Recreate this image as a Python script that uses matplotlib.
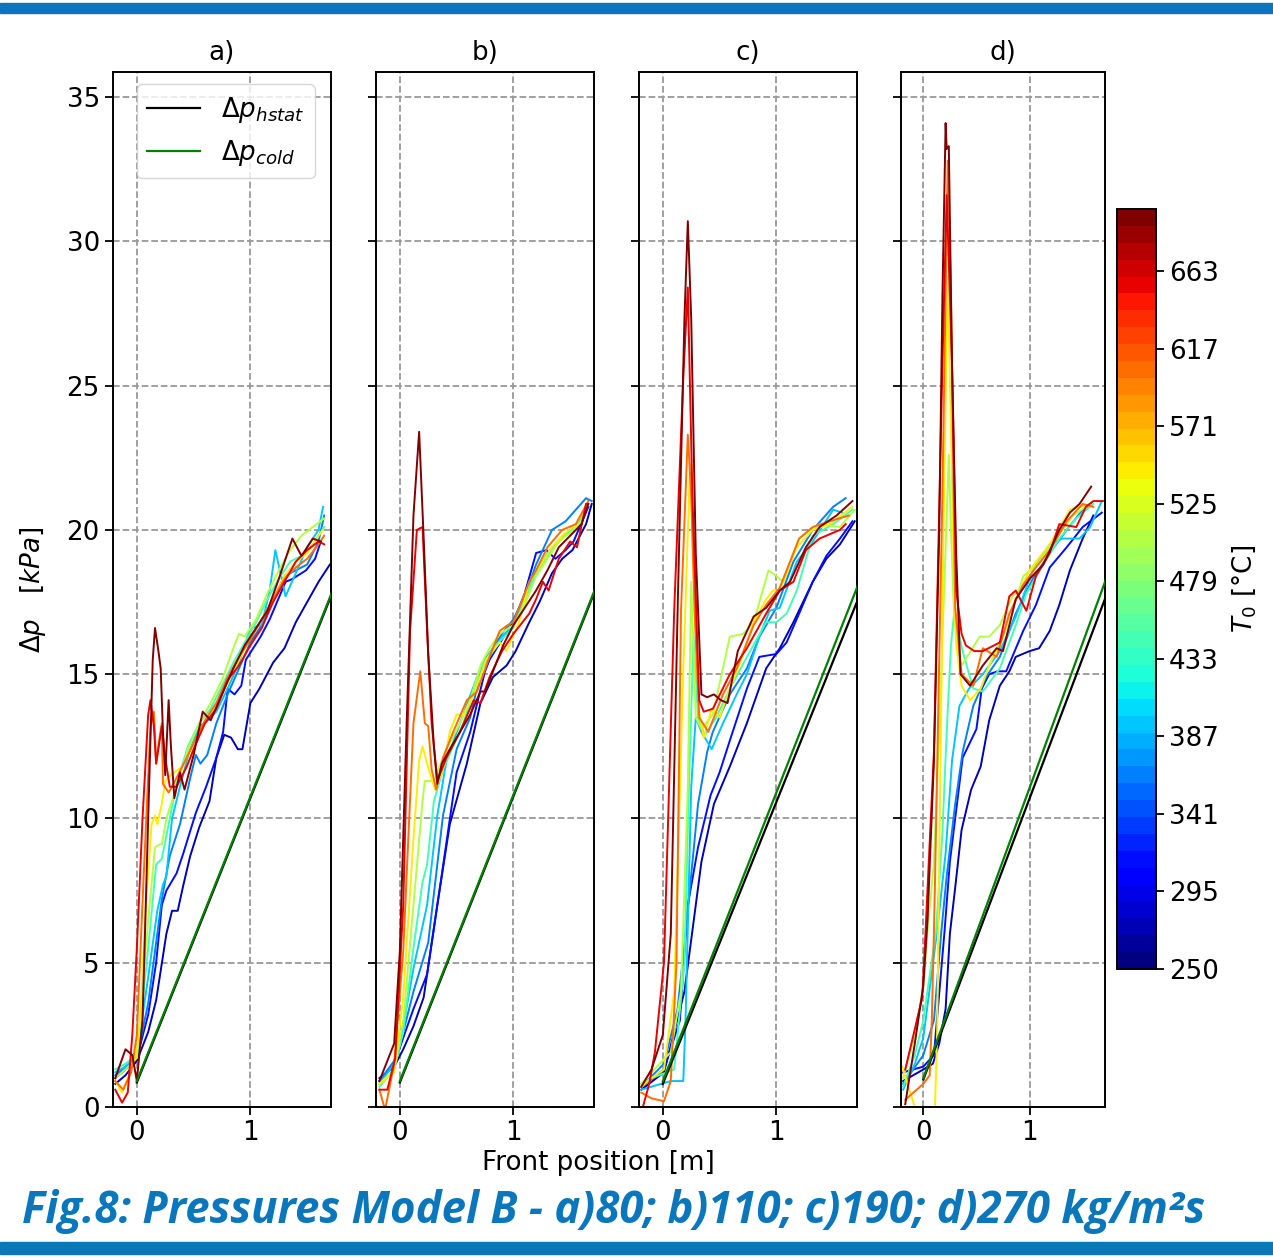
import matplotlib.pyplot as plt
import numpy as np
from matplotlib import colors, cm
from matplotlib.patches import Rectangle

plt.rcParams['font.family'] = 'DejaVu Sans'

# initial temperature of each run, coldest to hottest (same set in every panel)
temps = [270, 310, 360, 395, 440, 500, 545, 600, 650, 695]
titles = ['a)', 'b)', 'c)', 'd)']

# straight reference lines, front position 0 -> 1.75 m
ref_x = [0.0, 1.75]
hstat = [[0.85, 18.1], [0.85, 18.2], [0.8, 17.9], [0.95, 18.0]]
cold = [[0.9, 18.15], [0.9, 18.25], [0.9, 18.4], [1.0, 18.6]]

# ---- panel a) 80 kg/m2s
xa = [
    [-0.19, -0.1, 0.0, 0.1, 0.17, 0.26, 0.31, 0.36, 0.41, 0.47, 0.55, 0.64, 0.70, 0.77, 0.83, 0.89, 0.93, 1.0, 1.08, 1.2, 1.3, 1.4, 1.5, 1.6, 1.7],
    [-0.19, -0.1, 0.0, 0.1, 0.17, 0.22, 0.26, 0.35, 0.41, 0.52, 0.61, 0.70, 0.76, 0.80, 0.86, 0.92, 0.96, 1.09, 1.17, 1.31, 1.37, 1.49, 1.57, 1.62],
    [-0.19, -0.1, 0.0, 0.1, 0.22, 0.29, 0.38, 0.47, 0.52, 0.56, 0.62, 0.70, 0.80, 0.90, 1.00, 1.10, 1.20, 1.30, 1.40, 1.50, 1.60, 1.65],
    [-0.19, -0.1, 0.0, 0.1, 0.18, 0.23, 0.26, 0.31, 0.38, 0.46, 0.55, 0.6, 0.7, 0.8, 0.9, 1.0, 1.1, 1.17, 1.22, 1.31, 1.4, 1.5, 1.6, 1.64],
    [-0.19, -0.1, 0.0, 0.1, 0.17, 0.22, 0.28, 0.35, 0.45, 0.55, 0.65, 0.75, 0.85, 0.95, 1.05, 1.15, 1.25, 1.35, 1.45, 1.55, 1.65],
    [-0.19, -0.1, 0.0, 0.1, 0.16, 0.2, 0.22, 0.26, 0.35, 0.45, 0.55, 0.65, 0.75, 0.85, 0.9, 0.95, 1.05, 1.15, 1.25, 1.35, 1.45, 1.55, 1.65],
    [-0.19, -0.13, -0.06, 0.0, 0.03, 0.08, 0.13, 0.16, 0.18, 0.22, 0.25, 0.3, 0.4, 0.5, 0.6, 0.7, 0.8, 0.9, 1.0, 1.1, 1.2, 1.3, 1.4, 1.5, 1.6, 1.64],
    [-0.19, -0.12, -0.05, 0.0, 0.06, 0.12, 0.15, 0.17, 0.2, 0.22, 0.23, 0.28, 0.31, 0.4, 0.5, 0.6, 0.7, 0.8, 0.9, 1.0, 1.1, 1.2, 1.3, 1.4, 1.5, 1.6, 1.65],
    [-0.19, -0.13, -0.08, -0.04, 0.0, 0.05, 0.10, 0.12, 0.15, 0.17, 0.22, 0.25, 0.29, 0.35, 0.44, 0.5, 0.6, 0.7, 0.8, 0.9, 1.0, 1.1, 1.2, 1.3, 1.4, 1.5, 1.6, 1.65],
    [-0.19, -0.1, -0.04, 0.0, 0.05, 0.10, 0.14, 0.16, 0.19, 0.21, 0.23, 0.25, 0.28, 0.30, 0.33, 0.38, 0.42, 0.5, 0.58, 0.65, 0.75, 0.85, 0.95, 1.05, 1.15, 1.25, 1.37, 1.45, 1.55, 1.62],
]
ya = [
    [0.8, 1.1, 1.6, 2.6, 3.7, 6.0, 6.8, 6.8, 7.7, 8.7, 9.7, 10.6, 12.1, 12.9, 12.8, 12.4, 12.4, 14.0, 14.5, 15.4, 15.9, 16.8, 17.5, 18.2, 18.8],
    [1.0, 1.3, 1.7, 3.2, 5.0, 7.0, 7.5, 8.1, 8.8, 10.2, 11.1, 12.1, 13.0, 14.5, 14.3, 14.6, 15.5, 16.3, 16.9, 18.2, 18.3, 18.6, 19.0, 19.6],
    [1.1, 1.4, 1.7, 3.6, 7.2, 8.7, 9.8, 11.4, 12.2, 11.9, 12.2, 13.3, 14.3, 15.2, 16.1, 16.7, 17.6, 18.4, 18.6, 18.8, 19.6, 20.5],
    [1.2, 1.4, 1.8, 4.5, 6.8, 7.7, 8.0, 10.0, 11.1, 12.3, 13.2, 13.3, 13.7, 14.5, 15.4, 16.6, 16.7, 17.9, 19.3, 17.7, 18.5, 19.4, 20.0, 20.8],
    [1.3, 1.5, 1.8, 5.5, 8.4, 8.6, 9.8, 11.2, 12.5, 13.3, 13.8, 14.6, 15.4, 16.1, 16.8, 17.6, 18.3, 18.9, 19.1, 19.5, 20.1],
    [1.0, 1.3, 1.7, 6.5, 9.0, 9.1, 9.1, 10.0, 11.1, 12.4, 13.3, 14.0, 14.8, 15.9, 16.4, 16.3, 16.9, 17.8, 18.6, 19.3, 19.8, 20.1, 20.4],
    [0.9, 0.5, 1.2, 2.0, 3.0, 7.0, 9.8, 10.1, 9.8, 10.5, 11.3, 11.5, 11.8, 12.6, 13.3, 13.9, 14.7, 15.5, 16.3, 16.9, 17.6, 18.4, 18.9, 19.2, 19.8, 20.0],
    [0.9, 0.6, 1.2, 2.5, 8.0, 13.2, 13.7, 11.9, 12.8, 13.3, 11.2, 10.9, 11.1, 11.8, 12.6, 13.4, 14.0, 14.9, 15.6, 16.2, 16.9, 17.6, 18.3, 18.7, 19.0, 19.5, 19.8],
    [0.6, 0.15, 0.5, 2.5, 5.5, 10.0, 13.6, 14.1, 13.2, 11.9, 13.2, 12.1, 11.1, 11.1, 11.8, 12.4, 13.3, 13.8, 14.8, 15.3, 16.0, 16.6, 17.5, 18.2, 18.9, 19.3, 19.6, 19.5],
    [1.0, 2.0, 1.8, 0.9, 3.0, 10.0, 15.5, 16.6, 15.8, 15.2, 13.0, 11.5, 14.1, 12.5, 10.7, 11.6, 11.0, 12.2, 13.7, 13.4, 14.3, 15.2, 16.0, 16.6, 17.2, 18.3, 19.7, 19.1, 19.7, 19.6],
]

# ---- panel b) 110 kg/m2s
xb = [
    [-0.18, -0.05, 0.03, 0.12, 0.21, 0.33, 0.44, 0.59, 0.71, 0.82, 0.94, 1.02, 1.14, 1.23, 1.34, 1.43, 1.52, 1.64, 1.69],
    [-0.18, -0.05, 0.03, 0.12, 0.24, 0.36, 0.50, 0.62, 0.70, 0.75, 0.79, 0.9, 1.0, 1.1, 1.2, 1.29, 1.37, 1.46, 1.53, 1.66],
    [-0.18, -0.05, 0.03, 0.12, 0.25, 0.38, 0.50, 0.62, 0.73, 0.82, 0.9, 1.0, 1.1, 1.2, 1.34, 1.46, 1.55, 1.64, 1.69],
    [-0.18, -0.05, 0.03, 0.12, 0.24, 0.33, 0.41, 0.53, 0.68, 0.79, 0.9, 1.0, 1.1, 1.2, 1.3, 1.4, 1.5, 1.6, 1.66],
    [-0.18, -0.05, 0.03, 0.12, 0.20, 0.24, 0.30, 0.38, 0.47, 0.56, 0.71, 0.82, 0.92, 1.0, 1.1, 1.2, 1.3, 1.4, 1.5, 1.6, 1.66],
    [-0.18, -0.05, 0.03, 0.12, 0.20, 0.22, 0.30, 0.41, 0.53, 0.62, 0.71, 0.79, 0.88, 1.0, 1.1, 1.2, 1.3, 1.4, 1.5, 1.6, 1.66],
    [-0.18, -0.05, 0.03, 0.12, 0.17, 0.20, 0.24, 0.31, 0.38, 0.44, 0.50, 0.56, 0.65, 0.76, 0.88, 0.94, 1.05, 1.14, 1.34, 1.43, 1.55, 1.66],
    [-0.18, -0.13, -0.05, 0.03, 0.12, 0.18, 0.22, 0.25, 0.28, 0.32, 0.38, 0.47, 0.59, 0.68, 0.79, 0.88, 0.95, 1.0, 1.14, 1.2, 1.3, 1.43, 1.55, 1.66],
    [-0.18, -0.11, -0.04, 0.03, 0.09, 0.15, 0.20, 0.24, 0.28, 0.33, 0.41, 0.53, 0.65, 0.71, 0.79, 0.9, 1.0, 1.14, 1.2, 1.26, 1.31, 1.4, 1.5, 1.56, 1.64],
    [-0.18, -0.05, 0.0, 0.06, 0.12, 0.17, 0.21, 0.25, 0.30, 0.33, 0.37, 0.44, 0.53, 0.62, 0.71, 0.75, 0.82, 0.91, 1.0, 1.1, 1.2, 1.3, 1.4, 1.5, 1.6, 1.66],
]
yb = [
    [1.0, 1.4, 2.0, 2.8, 3.8, 7.0, 9.8, 11.9, 14.0, 14.9, 15.3, 15.8, 16.8, 17.5, 18.5, 19.0, 19.3, 20.2, 20.9],
    [0.9, 1.5, 2.4, 3.4, 4.6, 7.8, 11.6, 13.0, 14.3, 15.1, 15.5, 16.2, 16.8, 17.8, 19.2, 19.3, 19.0, 19.3, 19.6, 20.8],
    [0.9, 1.6, 2.6, 4.0, 5.7, 10.1, 12.4, 13.5, 15.4, 15.9, 16.4, 16.9, 17.7, 18.8, 20.0, 20.3, 20.7, 21.1, 21.0],
    [0.8, 1.5, 2.8, 4.8, 7.0, 10.1, 12.0, 13.3, 14.9, 15.6, 16.3, 16.7, 17.6, 18.5, 19.2, 19.6, 20.0, 20.4, 20.9],
    [0.7, 1.3, 2.6, 5.5, 7.8, 8.4, 10.6, 11.7, 12.5, 13.3, 15.2, 15.9, 16.3, 16.6, 17.6, 18.5, 19.1, 19.6, 20.0, 20.4, 20.9],
    [0.8, 1.3, 3.0, 7.0, 10.6, 11.3, 11.3, 12.4, 13.3, 14.1, 15.3, 15.9, 16.4, 16.7, 17.4, 18.4, 19.0, 19.6, 19.9, 20.3, 20.9],
    [0.8, 1.2, 3.8, 9.3, 12.0, 12.5, 11.9, 11.0, 11.7, 13.0, 13.6, 13.6, 14.3, 15.5, 16.1, 15.8, 16.8, 18.2, 19.4, 19.8, 20.2, 20.9],
    [0.6, -0.1, 1.5, 5.4, 13.3, 15.1, 13.3, 13.2, 11.7, 11.0, 12.1, 13.0, 14.1, 14.4, 15.6, 16.5, 16.7, 16.8, 18.2, 18.6, 19.4, 20.0, 20.2, 21.0],
    [0.6, 0.6, 1.7, 7.0, 16.5, 20.0, 20.1, 16.5, 13.3, 11.3, 12.1, 13.0, 14.1, 14.0, 14.9, 15.8, 16.4, 17.1, 17.6, 18.2, 17.9, 19.0, 19.6, 19.4, 20.9],
    [0.9, 2.2, 5.4, 13.3, 20.5, 23.4, 19.7, 15.7, 12.5, 11.2, 11.9, 12.4, 13.0, 13.6, 14.4, 14.4, 15.1, 16.0, 16.7, 17.3, 17.9, 18.6, 19.4, 19.8, 20.2, 20.9],
]

# ---- panel c) 190 kg/m2s
xc = [
    [-0.19, 0.01, 0.19, 0.34, 0.45, 0.59, 0.74, 0.91, 1.03, 1.15, 1.32, 1.44, 1.56, 1.69],
    [-0.19, 0.01, 0.15, 0.22, 0.31, 0.42, 0.50, 0.59, 0.74, 0.85, 1.0, 1.09, 1.20, 1.32, 1.44, 1.56, 1.67],
    [-0.19, 0.01, 0.13, 0.20, 0.31, 0.39, 0.44, 0.59, 0.74, 0.85, 1.0, 1.15, 1.32, 1.50, 1.61],
    [-0.19, 0.07, 0.18, 0.20, 0.25, 0.29, 0.34, 0.43, 0.53, 0.65, 0.74, 0.85, 0.94, 1.03, 1.18, 1.32, 1.50, 1.58],
    [-0.19, -0.1, 0.1, 0.19, 0.23, 0.27, 0.31, 0.37, 0.47, 0.59, 0.74, 0.91, 1.0, 1.09, 1.18, 1.32, 1.50, 1.67],
    [-0.19, -0.1, 0.07, 0.16, 0.22, 0.25, 0.29, 0.34, 0.44, 0.59, 0.71, 0.80, 0.93, 1.0, 1.06, 1.20, 1.38, 1.56, 1.69],
    [-0.19, -0.1, 0.01, 0.10, 0.18, 0.24, 0.28, 0.32, 0.36, 0.43, 0.50, 0.59, 0.68, 0.80, 0.91, 0.97, 1.03, 1.18, 1.32, 1.47, 1.67],
    [-0.19, -0.1, 0.01, 0.07, 0.12, 0.16, 0.22, 0.25, 0.28, 0.32, 0.40, 0.53, 0.65, 0.80, 0.91, 1.03, 1.20, 1.32, 1.47, 1.64],
    [-0.19, -0.12, -0.07, 0.01, 0.10, 0.18, 0.22, 0.26, 0.32, 0.36, 0.44, 0.59, 0.74, 0.91, 1.03, 1.15, 1.26, 1.38, 1.56, 1.61],
    [-0.19, -0.1, 0.0, 0.07, 0.13, 0.19, 0.22, 0.25, 0.29, 0.34, 0.39, 0.45, 0.51, 0.57, 0.66, 0.80, 0.91, 1.03, 1.12, 1.26, 1.38, 1.53, 1.67],
]
yc = [
    [0.6, 1.2, 4.0, 8.5, 10.5, 11.8, 13.3, 15.2, 15.9, 16.8, 18.2, 19.0, 19.5, 20.3],
    [0.7, 1.3, 3.0, 7.0, 9.0, 10.8, 11.6, 12.7, 14.5, 15.6, 15.7, 16.1, 17.1, 18.2, 19.1, 19.7, 20.3],
    [0.7, 1.5, 3.4, 6.0, 10.5, 12.3, 13.0, 14.3, 15.2, 16.3, 17.3, 18.9, 20.0, 20.8, 21.1],
    [0.6, 0.9, 0.9, 3.0, 11.1, 13.5, 13.0, 12.4, 13.3, 14.3, 15.0, 16.3, 17.2, 17.3, 18.9, 19.6, 20.7, 20.6],
    [0.8, 1.0, 1.3, 5.0, 11.1, 16.3, 13.5, 12.9, 13.5, 14.5, 15.6, 16.8, 16.8, 17.1, 17.9, 19.8, 20.2, 20.7],
    [0.8, 1.2, 1.9, 4.0, 11.1, 18.2, 13.5, 13.1, 13.6, 16.3, 16.4, 16.8, 18.6, 18.4, 18.2, 19.7, 20.2, 20.1, 20.7],
    [0.7, 1.0, 1.3, 4.0, 15.1, 22.3, 17.2, 13.7, 12.8, 13.8, 13.5, 14.5, 15.4, 16.8, 17.6, 17.9, 17.9, 19.4, 20.0, 20.2, 20.8],
    [0.5, 0.3, 0.2, 0.9, 5.0, 17.2, 23.3, 21.2, 17.2, 13.5, 13.0, 14.3, 15.2, 16.7, 17.4, 18.0, 19.7, 20.1, 20.3, 20.5],
    [-0.2, 0.8, 1.9, 5.0, 17.2, 25.3, 28.4, 21.2, 14.1, 13.7, 13.8, 15.0, 15.9, 17.1, 17.9, 18.2, 19.3, 19.7, 20.0, 20.2],
    [0.7, 1.3, 2.5, 6.0, 17.2, 27.3, 30.7, 27.3, 19.2, 14.3, 14.2, 14.3, 14.1, 14.0, 15.8, 17.0, 17.3, 17.9, 18.2, 19.4, 20.1, 20.5, 21.0],
]

# ---- panel d) 270 kg/m2s
xd = [
    [-0.19, 0.0, 0.09, 0.15, 0.21, 0.25, 0.30, 0.36, 0.45, 0.54, 0.62, 0.72, 0.81, 0.87, 1.0, 1.09, 1.19, 1.28, 1.38, 1.50, 1.60],
    [-0.19, 0.0, 0.1, 0.2, 0.25, 0.3, 0.37, 0.50, 0.55, 0.62, 0.70, 0.78, 0.94, 1.06, 1.19, 1.35, 1.50, 1.68],
    [-0.19, 0.0, 0.1, 0.17, 0.22, 0.3, 0.37, 0.47, 0.59, 0.72, 0.87, 1.03, 1.19, 1.35, 1.50, 1.58],
    [-0.19, -0.08, 0.0, 0.13, 0.21, 0.27, 0.34, 0.43, 0.56, 0.72, 0.87, 1.03, 1.19, 1.31, 1.47, 1.57, 1.68],
    [-0.19, -0.08, 0.0, 0.12, 0.18, 0.22, 0.26, 0.29, 0.31, 0.37, 0.47, 0.56, 0.72, 0.87, 0.97, 1.13, 1.28, 1.44, 1.60],
    [-0.19, -0.08, 0.0, 0.04, 0.1, 0.16, 0.22, 0.24, 0.26, 0.29, 0.33, 0.36, 0.43, 0.53, 0.62, 0.72, 0.84, 0.90, 0.94, 1.05, 1.25, 1.41, 1.57],
    [-0.20, -0.08, 0.0, 0.11, 0.13, 0.155, 0.19, 0.23, 0.26, 0.29, 0.31, 0.36, 0.44, 0.54, 0.62, 0.75, 0.87, 1.0, 1.19, 1.38, 1.57],
    [-0.17, 0.0, 0.06, 0.08, 0.1, 0.11, 0.18, 0.23, 0.26, 0.30, 0.36, 0.47, 0.56, 0.69, 0.81, 0.94, 1.06, 1.19, 1.35, 1.50, 1.60],
    [-0.17, -0.08, -0.01, 0.02, 0.10, 0.18, 0.22, 0.27, 0.31, 0.36, 0.40, 0.48, 0.56, 0.72, 0.81, 0.87, 0.97, 1.06, 1.19, 1.28, 1.44, 1.53, 1.60, 1.69],
    [-0.17, -0.08, 0.0, 0.04, 0.10, 0.15, 0.18, 0.21, 0.22, 0.24, 0.27, 0.31, 0.35, 0.44, 0.56, 0.69, 0.75, 0.87, 1.0, 1.13, 1.28, 1.38, 1.47, 1.58],
]
yd = [
    [0.9, 1.3, 1.5, 2.2, 3.4, 6.0, 7.6, 9.6, 11.0, 11.8, 13.4, 14.6, 15.1, 15.6, 15.8, 15.9, 16.5, 17.4, 18.6, 19.7, 20.5],
    [1.2, 1.4, 1.8, 6.1, 8.5, 10.0, 12.1, 13.1, 14.5, 15.0, 15.1, 15.1, 16.5, 17.4, 18.7, 19.4, 20.1, 20.6],
    [0.8, 1.8, 3.0, 6.1, 8.0, 10.5, 12.3, 13.9, 14.9, 15.6, 17.1, 18.3, 19.2, 20.0, 20.7, 20.9],
    [0.6, 1.5, 2.4, 6.1, 8.8, 12.0, 13.9, 14.5, 15.0, 15.8, 17.0, 18.6, 19.5, 19.7, 19.7, 20.1, 21.0],
    [0.7, 1.8, 3.0, 6.1, 9.5, 13.0, 16.0, 17.1, 16.8, 15.8, 14.5, 14.4, 15.2, 16.7, 17.8, 18.8, 19.7, 20.4, 20.9],
    [1.0, 2.5, 4.2, 6.1, 8.5, 14.0, 20.5, 22.6, 20.0, 17.0, 15.8, 15.3, 15.7, 16.3, 16.3, 16.7, 17.7, 17.9, 18.4, 18.7, 19.7, 20.5, 20.9],
    [1.4, 0.0, -2.0, 0.0, 2.5, 10.0, 20.0, 28.8, 23.6, 18.0, 16.0, 14.6, 14.1, 14.5, 15.3, 16.3, 17.6, 18.6, 19.5, 20.7, 20.9],
    [0.25, 0.8, 1.1, 3.0, 6.1, 7.8, 21.3, 32.8, 28.1, 17.3, 15.0, 14.6, 15.9, 15.6, 17.1, 18.1, 18.7, 19.3, 20.3, 20.9, 20.8],
    [1.3, 2.7, 3.8, 6.0, 12.3, 25.8, 31.6, 25.8, 17.9, 16.4, 16.0, 15.8, 15.8, 16.1, 17.7, 17.9, 17.2, 18.4, 19.2, 20.2, 20.1, 20.8, 21.0, 21.0],
    [0.1, 2.2, 4.2, 6.5, 12.0, 20.0, 28.1, 34.1, 33.2, 33.3, 25.8, 19.1, 15.0, 14.6, 15.3, 15.9, 15.8, 17.6, 18.3, 18.8, 20.0, 20.6, 20.9, 21.5],
]

cbar_ticks = [250, 295.9, 341.8, 387.7, 433.6, 479.5, 525.4, 571.3, 617.2, 663.1]
cbar_labels = ['250', '295', '341', '387', '433', '479', '525', '571', '617', '663']

all_x = [xa, xb, xc, xd]
all_y = [ya, yb, yc, yd]

FS = 18.8
BLUE = '#0a77bd'

fig = plt.figure(figsize=(12.73, 12.58), dpi=100)
W, H = 1273, 1258

# blue bands top and bottom
fig.patches.append(Rectangle((0, (H - 13) / H), 1, 10 / H, transform=fig.transFigure,
                             color=BLUE, zorder=0))
fig.patches.append(Rectangle((0, (H - 1254) / H), 1, 12 / H, transform=fig.transFigure,
                             color=BLUE, zorder=0))

cmap = plt.get_cmap('jet', 45)
norm = colors.Normalize(vmin=250, vmax=700)

lefts = [113, 376, 639, 901]
widths = [218, 218, 218, 204]
axes = []
for i in range(4):
    ax = fig.add_axes([lefts[i] / W, (H - 1107) / H, widths[i] / W, 1035 / H])
    axes.append(ax)
    for xs, ys, t in zip(all_x[i], all_y[i], temps):
        ax.plot(xs, ys, color=cmap(norm(t)), lw=1.4, zorder=2)
    ax.plot(ref_x, hstat[i], color='black', lw=1.6, zorder=3, label=r'$\Delta p_{hstat}$')
    ax.plot(ref_x, cold[i], color='green', lw=1.6, zorder=4, label=r'$\Delta p_{cold}$')

    ax.set_xlim(-0.21, 1.71)
    ax.set_ylim(0, 35.87)
    ax.set_xticks([0, 1])
    ax.set_yticks(np.arange(0, 36, 5))
    ax.grid(True, linestyle='--', color='#999999', lw=1.3)
    ax.tick_params(direction='out', length=6, width=1.3, labelsize=FS)
    for sp in ax.spines.values():
        sp.set_linewidth(1.4)
    if i > 0:
        ax.set_yticklabels([])
    ax.set_title(titles[i], fontsize=FS, pad=9)

axes[0].legend(loc='upper left', bbox_to_anchor=(0.11, 0.988), borderaxespad=0,
               fontsize=FS)

fig.text(33 / W, (H - 590) / H, r'$\Delta p$   $[kPa]$', rotation=90,
         ha='center', va='center', fontsize=FS)
fig.text(598 / W, (H - 1163) / H, 'Front position [m]', ha='center', va='center',
         fontsize=FS)

cax = fig.add_axes([1117 / W, (H - 969) / H, 39 / W, 760 / H])
sm = cm.ScalarMappable(norm=norm, cmap=cmap)
cb = fig.colorbar(sm, cax=cax, ticks=cbar_ticks)
cb.ax.set_yticklabels(cbar_labels)
cb.ax.tick_params(labelsize=FS, length=6, width=1.3)
cb.outline.set_linewidth(1.4)
cb.set_label(r'$T_0$ [°C]', fontsize=FS, labelpad=8)

fig.text(22 / W, (H - 1212) / H, 'Fig.8: Pressures Model B - a)80; b)110; c)190; d)270 kg/m²s',
         ha='left', va='center', fontsize=31.5, color=BLUE, fontweight='bold',
         style='italic', family='Open Sans')

fig.savefig('out.png', dpi=100)
